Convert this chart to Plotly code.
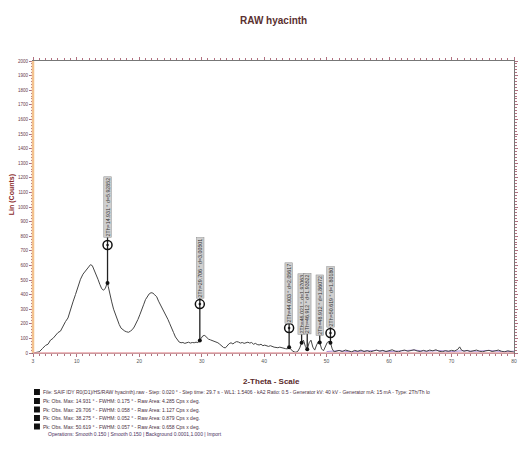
import numpy as np
import plotly.graph_objects as go

# ---------------- data ----------------
two_theta = [3.0, 3.5, 4.0, 4.5, 5.0, 5.4, 5.8, 6.2, 6.6, 7.0, 7.4, 7.8, 8.2, 8.6, 9.0, 9.4, 9.8,
             10.2, 10.6, 11.0, 11.4, 11.8, 12.2, 12.5, 12.8, 13.1, 13.4, 13.7, 14.0, 14.3, 14.6,
             14.8, 14.93, 15.05, 15.3, 15.6, 15.9, 16.2, 16.5, 16.8, 17.1, 17.4, 17.7, 18.0, 18.3,
             18.6, 18.9, 19.2, 19.5, 19.8, 20.1, 20.4, 20.7, 21.0, 21.3, 21.6, 21.9, 22.2, 22.5,
             22.8, 23.1, 23.4, 23.7, 24.0, 24.3, 24.6, 24.9, 25.2, 25.5, 25.8, 26.1, 26.4, 26.7,
             27.0, 27.3, 27.6, 27.9, 28.2, 28.5, 28.8, 29.1, 29.4, 29.6, 29.706, 29.9, 30.2, 30.5,
             30.8, 31.1, 31.4, 31.7, 32.0, 32.3, 32.6, 32.9, 33.2, 33.5, 33.8, 34.1, 34.4, 34.7,
             35.0, 35.3, 35.6, 35.9, 36.2, 36.5, 36.8, 37.1, 37.4, 37.7, 38.0, 38.3, 38.6, 38.9,
             39.2, 39.5, 39.8, 40.1, 40.4, 40.7, 41.0, 41.3, 41.6, 41.9, 42.2, 42.5, 42.8, 43.1,
             43.4, 43.7, 44.0, 44.2, 44.5, 44.8, 45.1, 45.4, 45.7, 46.0, 46.3, 46.6, 46.9, 47.2,
             47.5, 47.8, 48.1, 48.4, 48.7, 48.9, 49.2, 49.5, 49.8, 50.1, 50.4, 50.619, 50.9, 51.2,
             51.5, 52.0, 52.5, 53.0, 53.5, 54.0, 54.5, 55.0, 55.5, 56.0, 56.5, 57.0, 57.5, 58.0,
             58.5, 59.0, 59.5, 60.0, 60.5, 61.0, 61.5, 62.0, 62.5, 63.0, 63.5, 64.0, 64.5, 65.0,
             65.5, 66.0, 66.5, 67.0, 67.5, 68.0, 68.5, 69.0, 69.5, 70.0, 70.5, 71.0, 71.3, 71.6,
             72.0, 72.5, 73.0, 73.5, 74.0, 74.5, 75.0, 75.5, 76.0, 76.5, 77.0, 77.5, 78.0, 78.5,
             79.0, 79.5, 80.0]
counts = [0, 5, 8, 30, 52, 60, 88, 100, 118, 140, 150, 185, 215, 240, 300, 350, 400,
          455, 505, 540, 560, 585, 605, 598, 570, 540, 505, 470, 440, 430, 445,
          470, 480, 455, 400, 350, 300, 260, 225, 195, 170, 158, 150, 145, 142,
          150, 160, 178, 200, 230, 262, 290, 330, 365, 390, 405, 413, 410, 398,
          385, 355, 330, 310, 290, 265, 230, 200, 175, 140, 110, 88, 75, 70,
          72, 66, 70, 74, 68, 72, 70, 74, 72, 78, 85, 100, 118, 120,
          105, 95, 90, 86, 80, 74, 70, 60, 48, 38, 35, 50, 64, 70,
          62, 72, 78, 75, 68, 72, 66, 70, 74, 68, 72, 60, 66, 58,
          55, 60, 50, 54, 48, 45, 50, 42, 40, 38, 36, 40, 35, 32,
          30, 28, 40, 30, 15, 8, 5, 12, 35, 70, 88, 45, 25, 70,
          88, 40, 20, 55, 80, 72, 28, 15, 45, 72, 80, 70, 28, 8,
          12, 18, 10, 20, 15, 8, 18, 12, 20, 10, 16, 8, 14, 20,
          12, 18, 10, 15, 22, 12, 8, 16, 20, 12, 18, 22, 14, 10,
          18, 12, 20, 15, 22, 12, 8, 16, 12, 18, 14, 25, 42, 20,
          12, 18, 10, 16, 20, 12, 8, 15, 18, 10, 14, 20, 12, 8,
          15, 10, 5]

bg_two_theta = [50.0, 52.0, 54.0, 56.0, 58.0, 60.0, 62.0, 64.0, 66.0, 68.0, 70.0, 72.0, 74.0, 76.0, 78.0, 80.0]
bg_counts = [10, 16, 8, 14, 18, 10, 15, 20, 12, 17, 10, 16, 12, 18, 10, 12]

peak_2theta = [14.931, 29.706, 44.0, 46.0, 46.9, 48.9, 50.619]
peak_labels = ["2Th=14.931 ° d=5.92852", "2Th=29.706 ° d=3.00501", "2Th=44.003 ° d=2.05617",
               "2Th=46.021 ° d=1.97063", "2Th=46.912 ° d=1.93522", "2Th=48.912 ° d=1.86072",
               "2Th=50.619 ° d=1.80180"]
label_center = [1000, 585, 408, 336, 336, 329, 384]
circle_counts = [740, 335, 171, None, None, None, 137]

x_ticks = [3, 10, 20, 30, 40, 50, 60, 70, 80]
y_ticks = list(range(0, 2001, 100))

legend_rows = [
    "File: SAIF IDY R0(D1)/HS/RAW hyacinth).raw - Step: 0.020 ° - Step time: 29.7 s - WL1: 1.5406 - kA2 Ratio: 0.5 - Generator kV: 40 kV - Generator mA: 15 mA - Type: 2Th/Th lo",
    "Pk: Obs. Max: 14.931 ° - FWHM: 0.175 ° - Raw Area: 4.285 Cps x deg.",
    "Pk: Obs. Max: 29.706 ° - FWHM: 0.058 ° - Raw Area: 1.127 Cps x deg.",
    "Pk: Obs. Max: 38.275 ° - FWHM: 0.052 ° - Raw Area: 0.879 Cps x deg.",
    "Pk: Obs. Max: 50.619 ° - FWHM: 0.057 ° - Raw Area: 0.658 Cps x deg.",
]
operations_text = "Operations: Smooth 0.150 | Smooth 0.150 | Background 0.0001,1.000 | Import"

# ---------------- figure ----------------
W, H = 528, 450
ML, MR, MT, MB = 33, 10, 61, 97
PW, PH = W - ML - MR, H - MT - MB


def px(p):
    return (p - ML) / PW


def py(p):
    return (H - MB - p) / PH


fig = go.Figure()

fig.add_trace(go.Scatter(x=bg_two_theta, y=bg_counts, mode="lines",
                         line=dict(color="#a98bd6", width=1), hoverinfo="skip"))
fig.add_trace(go.Scatter(x=two_theta, y=counts, mode="lines",
                         line=dict(color="#454545", width=1), hoverinfo="skip"))

curve_at_peak = np.interp(peak_2theta, two_theta, counts)
for xp, top, base in zip(peak_2theta, label_center, curve_at_peak):
    fig.add_trace(go.Scatter(x=[xp, xp], y=[top, base], mode="lines",
                             line=dict(color="#222", width=1.3), hoverinfo="skip"))
fig.add_trace(go.Scatter(x=peak_2theta, y=curve_at_peak, mode="markers",
                         marker=dict(color="#111", size=4), hoverinfo="skip"))
cx = [x for x, c in zip(peak_2theta, circle_counts) if c is not None]
cy = [c for c in circle_counts if c is not None]
fig.add_trace(go.Scatter(x=cx, y=cy, mode="markers",
                         marker=dict(symbol="circle-open-dot", color="#111", size=9,
                                     line=dict(width=1.5, color="#111")),
                         hoverinfo="skip"))

for xp, yc, txt in zip(peak_2theta, label_center, peak_labels):
    fig.add_annotation(x=xp, y=yc, xref="x", yref="y", text=txt, textangle=-90,
                       xanchor="center", yanchor="middle",
                       showarrow=False, bgcolor="#cfcfcf", bordercolor="#8a8a8a",
                       borderwidth=0.5, borderpad=0.5,
                       font=dict(size=5.3, color="#333", family="Liberation Sans"))

# title
fig.add_annotation(x=px(275), y=py(21), xref="paper", yref="paper", text="<b>RAW hyacinth</b>",
                   xanchor="center", yanchor="middle",
                   showarrow=False, font=dict(size=10, color="#5a3030", family="Liberation Sans"))
# axis titles
fig.add_annotation(x=px(273), y=py(381), xref="paper", yref="paper", text="<b>2-Theta - Scale</b>",
                   xanchor="center", yanchor="middle",
                   showarrow=False, font=dict(size=8, color="#5a2a2a", family="Liberation Sans"))
fig.add_annotation(x=px(12), y=py(195), xref="paper", yref="paper", text="<b>Lin (Counts)</b>",
                   textangle=-90, xanchor="center", yanchor="middle", showarrow=False,
                   font=dict(size=7, color="#8a2a2a", family="Liberation Sans"))

# legend block
row_y = [392, 401, 409.5, 418, 426.5]
for ry, txt in zip(row_y, legend_rows):
    fig.add_shape(type="rect", xref="paper", yref="paper", x0=px(34), x1=px(40),
                  y0=py(ry + 3), y1=py(ry - 3), fillcolor="#111", line=dict(width=0))
    fig.add_annotation(x=px(41), y=py(ry), xref="paper", yref="paper", text=txt,
                       xanchor="left", yanchor="middle", showarrow=False,
                       font=dict(size=5, color="#4a3040", family="Liberation Sans"))
fig.add_annotation(x=px(46), y=py(434), xref="paper", yref="paper", text=operations_text,
                   xanchor="left", yanchor="middle", showarrow=False,
                   font=dict(size=5, color="#4a3060", family="Liberation Sans"))

# coloured frame sides
fig.add_shape(type="line", xref="paper", yref="paper", x0=0, x1=0, y0=0, y1=1,
              line=dict(color="#f3c28e", width=2.5), layer="above")
fig.add_shape(type="line", xref="paper", yref="paper", x0=0, x1=1, y0=0, y1=0,
              line=dict(color="#e7a3a8", width=1.5), layer="above")

fig.update_layout(
    width=W, height=H, margin=dict(l=ML, r=MR, t=MT, b=MB),
    paper_bgcolor="white", plot_bgcolor="white", showlegend=False,
    font=dict(family="Liberation Sans"),
)
fig.update_xaxes(range=[3, 80], tickvals=x_ticks, ticktext=[str(v) for v in x_ticks],
                 showgrid=False, zeroline=False, showline=True, linecolor="#777", linewidth=1,
                 mirror="allticks", ticks="outside", ticklen=3, tickcolor="#b07080",
                 tickfont=dict(size=5, color="#555"),
                 minor=dict(dtick=1, ticks="outside", ticklen=2, tickcolor="#b07080"))
fig.update_yaxes(range=[0, 2000], tickvals=y_ticks, showgrid=False, zeroline=False,
                 showline=True, linecolor="#777", linewidth=1, mirror="allticks",
                 ticks="outside", ticklen=3, tickcolor="#b07080",
                 tickfont=dict(size=4.5, color="#6a3a4a"),
                 minor=dict(dtick=20, ticks="outside", ticklen=1.5, tickcolor="#b07080"))

fig.write_html("out.html", config={"displayModeBar": False},
               post_script="document.body.style.margin='0';")
